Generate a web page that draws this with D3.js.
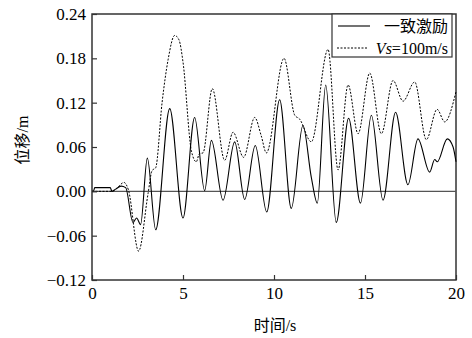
<!DOCTYPE html>
<html>
<head>
<meta charset="utf-8">
<script src="https://cdn.jsdelivr.net/npm/d3@7"></script>
<style>
body { margin: 0; background: #fff; }
svg text { font-family: "Liberation Serif", "Noto Sans CJK SC", serif; fill: #000; }
</style>
</head>
<body>
<div id="chart"></div>
<script>
// uniform excitation (solid line)
var timeA = [0, 0.08, 0.15, 1.0, 1.1, 1.3, 1.6, 1.85, 2.25, 2.45, 2.67, 3.04, 3.5, 4.27, 5.0, 5.64, 6.19, 6.56, 7.2, 7.84, 8.39, 8.97, 9.6, 10.31, 10.95, 11.59, 12.05, 12.38, 12.84, 13.42, 14.1, 14.75, 15.35, 15.99, 16.68, 17.36, 17.91, 18.55, 18.83, 18.97, 19.52, 19.84, 20];
var dispA = [0, 0, 0.005, 0.005, 0, 0.003, 0.007, 0.005, -0.042, -0.036, -0.045, 0.045, -0.052, 0.112, -0.036, 0.100, 0.001, 0.069, -0.012, 0.067, -0.011, 0.062, -0.028, 0.124, -0.023, 0.089, 0.019, -0.016, 0.144, -0.042, 0.099, -0.016, 0.103, -0.012, 0.107, 0.009, 0.071, 0.026, 0.043, 0.040, 0.071, 0.060, 0.040];

// Vs = 100 m/s (dotted line)
var timeB = [0, 1.1, 1.35, 1.76, 2.0, 2.56, 3.08, 3.3, 3.5, 3.85, 4.18, 4.54, 4.78, 5.0, 5.46, 5.73, 5.9, 6.1, 6.61, 7.29, 7.75, 8.33, 8.94, 9.3, 9.58, 10.55, 11.14, 11.4, 12.05, 12.97, 13.52, 14.07, 14.62, 15.26, 15.9, 16.54, 17.09, 17.73, 18.37, 18.96, 19.38, 20];
var dispB = [0, 0, 0.004, 0.012, 0.002, -0.081, -0.003, 0.028, 0.032, 0.12, 0.178, 0.211, 0.205, 0.175, 0.055, 0.040, 0.051, 0.052, 0.139, 0.042, 0.080, 0.046, 0.100, 0.075, 0.052, 0.180, 0.103, 0.098, 0.067, 0.192, 0.029, 0.144, 0.078, 0.160, 0.078, 0.150, 0.122, 0.148, 0.070, 0.111, 0.094, 0.135];

var xTicks = [0, 5, 10, 15, 20];
var yTicks = [-0.12, -0.06, 0, 0.06, 0.12, 0.18, 0.24];
var seriesNames = ["一致激励", "Vs=100m/s"];

var width = 472, height = 338;
var plotL = 92, plotR = 456, plotT = 14, plotB = 280;

var svg = d3.select("#chart").append("svg")
  .attr("width", width)
  .attr("height", height);

var x = d3.scaleLinear().domain([0, 20]).range([plotL, plotR]);
var y = d3.scaleLinear().domain([-0.12, 0.24]).range([plotB, plotT]);

// frame
svg.append("rect")
  .attr("x", plotL).attr("y", plotT)
  .attr("width", plotR - plotL).attr("height", plotB - plotT)
  .attr("fill", "none").attr("stroke", "#333").attr("stroke-width", 1.5);

// zero line
svg.append("line")
  .attr("x1", plotL).attr("x2", plotR)
  .attr("y1", y(0)).attr("y2", y(0))
  .attr("stroke", "#555").attr("stroke-width", 1.2);

var line = d3.line()
  .x(function(d) { return x(d[0]); })
  .y(function(d) { return y(d[1]); })
  .curve(d3.curveMonotoneX);

var ptsA = timeA.map(function(t, i) { return [t, dispA[i]]; });
var ptsB = timeB.map(function(t, i) { return [t, dispB[i]]; });

svg.append("path").datum(ptsB)
  .attr("d", line)
  .attr("fill", "none").attr("stroke", "#000")
  .attr("stroke-width", 1).attr("stroke-dasharray", "2,1.5");

svg.append("path").datum(ptsA)
  .attr("d", line)
  .attr("fill", "none").attr("stroke", "#000")
  .attr("stroke-width", 1.1);

// axes, ticks pointing inward
var xAxis = svg.append("g")
  .attr("transform", "translate(0," + plotB + ")")
  .call(d3.axisBottom(x).tickValues(xTicks).tickSizeInner(-5).tickSizeOuter(0).tickPadding(7).tickFormat(d3.format("d")));
var yAxis = svg.append("g")
  .attr("transform", "translate(" + plotL + ",0)")
  .call(d3.axisLeft(y).tickValues(yTicks).tickSizeInner(-5).tickSizeOuter(0).tickPadding(6).tickFormat(d3.format(".2f")));

[xAxis, yAxis].forEach(function(g) {
  g.select(".domain").remove();
  g.selectAll(".tick line").attr("stroke", "#333").attr("stroke-width", 1.2);
  g.selectAll(".tick text").style("font-size", "17px").attr("fill", "#000");
});

// axis titles
svg.append("text")
  .attr("x", (plotL + plotR) / 2 + 1).attr("y", 331)
  .attr("text-anchor", "middle")
  .style("font-size", "16px")
  .text("时间/s");

svg.append("text")
  .attr("transform", "translate(28,140) rotate(-90)")
  .attr("text-anchor", "middle")
  .style("font-size", "16px")
  .text("位移/m");

// legend
var lg = svg.append("g");
lg.append("rect")
  .attr("x", 332).attr("y", plotT)
  .attr("width", 120).attr("height", 43)
  .attr("fill", "#fff").attr("stroke", "#333").attr("stroke-width", 1.2);
lg.append("line")
  .attr("x1", 338).attr("x2", 370).attr("y1", 26).attr("y2", 26)
  .attr("stroke", "#000").attr("stroke-width", 1.1);
lg.append("line")
  .attr("x1", 337).attr("x2", 368).attr("y1", 48).attr("y2", 48)
  .attr("stroke", "#000").attr("stroke-width", 1).attr("stroke-dasharray", "2,1.5");
lg.append("text")
  .attr("x", 448).attr("y", 32)
  .attr("text-anchor", "end")
  .style("font-size", "16px")
  .text(seriesNames[0]);
var t2 = lg.append("text")
  .attr("x", 448).attr("y", 54)
  .attr("text-anchor", "end")
  .style("font-size", "16px");
t2.append("tspan").style("font-style", "italic").text("Vs");
t2.append("tspan").text(seriesNames[1].slice(2));
</script>
</body>
</html>
